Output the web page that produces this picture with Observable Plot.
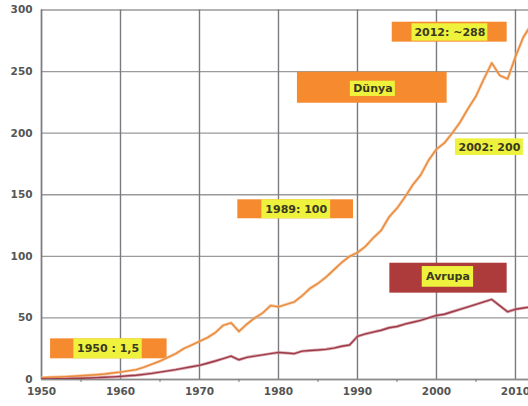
<!DOCTYPE html>
<html>
<head>
<meta charset="utf-8">
<script src="https://cdn.jsdelivr.net/npm/d3@7"></script>
<script src="https://cdn.jsdelivr.net/npm/@observablehq/plot@0.6"></script>
<style>
  html, body { margin: 0; padding: 0; background: #fff; overflow: hidden; }
  #chart { width: 528px; height: 406px; }
</style>
</head>
<body>
<div id="chart"></div>
<script>
// Plastik üretimi (milyon ton), 1950–2012
const years = d3.range(1950, 2013);

const dunya = [
  1.5, 1.8, 2.0, 2.3, 2.6, 3.0, 3.4, 3.9, 4.5, 5.3,
  6.0, 7.0, 8.0, 10, 12.5, 15, 18, 21, 25, 28,
  31, 34, 38, 44, 46, 39, 45, 50, 54, 60,
  59, 61, 63, 68, 74, 78, 83, 89, 95, 100,
  103, 108, 115, 121, 132, 139, 148, 158, 166, 178,
  187, 192, 200, 209, 220, 230, 244, 257, 247, 244,
  262, 278, 288
];

const avrupa = [
  0.4, 0.5, 0.6, 0.7, 0.8, 1.0, 1.2, 1.5, 1.8, 2.1,
  2.5, 3.0, 3.5, 4.2, 5.0, 6.0, 7.0, 8.0, 9.2, 10.3,
  11.5, 13.2, 15, 17, 19, 16, 18, 19, 20, 21,
  22, 21.5, 21, 23, 23.5, 24, 24.5, 25.5, 27, 28,
  35, 37, 38.5, 40, 42, 43, 45, 46.5, 48, 50,
  52, 53, 55, 57, 59, 61, 63, 65, 60, 55,
  57, 58, 59
];

const xTicks = [1950, 1960, 1970, 1980, 1990, 2000, 2010];
const xMinor = [1955, 1965, 1975, 1985, 1995, 2005];
const yTicks = [0, 50, 100, 150, 200, 250, 300];

const series = [
  ...years.map((year, i) => ({year, value: dunya[i], seri: "Dünya"})),
  ...years.map((year, i) => ({year, value: avrupa[i], seri: "Avrupa"}))
];

// Etiket kutuları (x: yıl, y: milyon ton)
const notes = [
  {text: "2012: ~288", box: "#f68a2f", x1: 1994.4, x2: 2008.95, y1: 273.9, y2: 290.1, hx1: 1996.9, hx2: 2006.5, hy1: 274.7, hy2: 288.8},
  {text: "Dünya", box: "#f68a2f", x1: 1982.4, x2: 2001.35, y1: 224.3, y2: 249.5, hx1: 1989.1, hx2: 1994.8, hy1: 229.8, hy2: 242.2},
  {text: "2002: 200", box: null, x1: 2002.4, x2: 2011, y1: 181.9, y2: 195.4, hx1: 2002.4, hx2: 2011, hy1: 181.9, hy2: 195.4},
  {text: "1989: 100", box: "#f68a2f", x1: 1974.85, x2: 1989.5, y1: 130.5, y2: 145.9, hx1: 1977.9, hx2: 1986.6, hy1: 130.5, hy2: 145.9},
  {text: "Avrupa", box: "#ad3b3b", x1: 1994.1, x2: 2008.95, y1: 70.1, y2: 94.4, hx1: 1998.2, hx2: 2004.7, hy1: 74.9, hy2: 91.7},
  {text: "1950 : 1,5", box: "#f68a2f", x1: 1951.15, x2: 1965.9, y1: 16.8, y2: 33.0, hx1: 1954.1, hx2: 1962.75, hy1: 16.8, hy2: 33.0}
];

const chart = Plot.plot({
  width: 528,
  height: 406,
  marginLeft: 41,
  marginRight: 0,
  marginTop: 9.5,
  marginBottom: 27,
  x: {domain: [1950, 2011.65]},
  y: {domain: [0, 300]},
  style: {fontFamily: "DejaVu Sans", background: "#fff"},
  marks: [
    Plot.gridY(yTicks, {stroke: "#9a9a9a", strokeOpacity: 1, strokeWidth: 1.3}),
    Plot.gridX(xTicks, {stroke: "#7a7a80", strokeOpacity: 1, strokeWidth: 1.4}),
    Plot.ruleX([1950], {stroke: "#7a7a80", strokeWidth: 1.4}),
    Plot.ruleY([0], {stroke: "#8a8a8a", strokeWidth: 1.4}),
    Plot.axisY(yTicks, {tickSize: 0, tickPadding: 9, fontSize: 10.5, fontWeight: "bold", fill: "#555"}),
    Plot.axisX(xTicks, {tickSize: 0, tickPadding: 8, fontSize: 10.5, fontWeight: "bold", fill: "#555", tickFormat: d => String(d)}),
    Plot.axisX(xMinor, {tickSize: 3, stroke: "#777", tickFormat: () => ""}),
    Plot.rectY(notes.filter(d => d.box), {x1: "x1", x2: "x2", y1: "y1", y2: "y2", fill: "box"}),
    Plot.rectY(notes, {x1: "hx1", x2: "hx2", y1: "hy1", y2: "hy2", fill: "#eef23c"}),
    Plot.line(series, {x: "year", y: "value", z: "seri", stroke: d => d.seri === "Dünya" ? "#f4b27a" : "#c9808a", strokeWidth: 3, strokeOpacity: 0.7, clip: true}),
    Plot.line(series, {x: "year", y: "value", z: "seri", stroke: d => d.seri === "Dünya" ? "#e98a3c" : "#9c3a48", strokeWidth: 1.4, clip: true}),
    Plot.text(notes, {x: d => (d.hx1 + d.hx2) / 2, y: d => (d.hy1 + d.hy2) / 2, text: "text", fontSize: 11, fontWeight: "bold", fill: "#3a3a20"})
  ]
});

document.getElementById("chart").appendChild(chart);
</script>
</body>
</html>
